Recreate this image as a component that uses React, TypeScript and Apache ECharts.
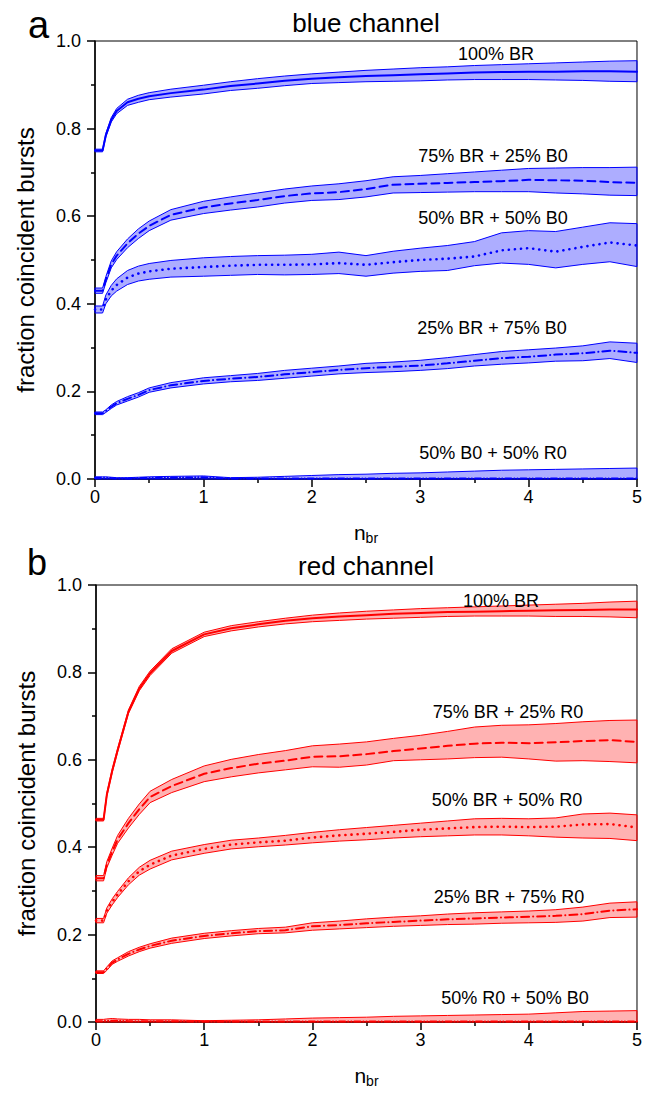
import React, { useEffect, useRef } from 'react';
import * as echarts from 'echarts';

// shared n_br sample positions
const nbr = [0, 0.07, 0.1, 0.15, 0.2, 0.3, 0.4, 0.5, 0.7, 1.0, 1.25, 1.5, 1.75, 2.0, 2.25, 2.5, 2.75, 3.0, 3.25, 3.5, 3.75, 4.0, 4.25, 4.5, 4.75, 5.0];
const zeros = nbr.map(() => 0);

// ---- blue channel ----
const blue100 = [0.75,0.75,0.785,0.82,0.84,0.86,0.868,0.874,0.881,0.889,0.897,0.903,0.909,0.914,0.917,0.92,0.922,0.924,0.926,0.928,0.929,0.93,0.93,0.931,0.931,0.93];
const blue100Hi = [0.753,0.753,0.789,0.825,0.846,0.867,0.876,0.882,0.89,0.899,0.907,0.914,0.92,0.925,0.929,0.933,0.936,0.939,0.941,0.944,0.946,0.948,0.95,0.952,0.954,0.955];
const blue100Lo = [0.747,0.747,0.781,0.815,0.834,0.853,0.86,0.866,0.872,0.879,0.887,0.892,0.898,0.903,0.905,0.907,0.908,0.909,0.911,0.912,0.912,0.912,0.911,0.91,0.908,0.907];

const blue75 = [0.43,0.43,0.455,0.49,0.51,0.538,0.56,0.578,0.603,0.62,0.629,0.637,0.646,0.652,0.655,0.662,0.672,0.674,0.676,0.678,0.68,0.683,0.682,0.681,0.678,0.676];
const blue75Hi = [0.436,0.436,0.462,0.498,0.519,0.548,0.571,0.589,0.615,0.634,0.644,0.653,0.662,0.669,0.674,0.681,0.69,0.693,0.697,0.701,0.705,0.709,0.71,0.711,0.711,0.712];
const blue75Lo = [0.424,0.424,0.448,0.482,0.501,0.528,0.549,0.567,0.591,0.606,0.614,0.621,0.63,0.636,0.638,0.644,0.653,0.654,0.655,0.656,0.656,0.656,0.653,0.651,0.648,0.647];

const blue50 = [0.387,0.387,0.41,0.43,0.443,0.46,0.469,0.474,0.48,0.484,0.487,0.489,0.489,0.49,0.493,0.489,0.495,0.5,0.503,0.508,0.522,0.527,0.519,0.53,0.54,0.533];
const blue50Hi = [0.395,0.395,0.42,0.442,0.457,0.476,0.486,0.492,0.499,0.505,0.508,0.51,0.511,0.513,0.518,0.51,0.52,0.527,0.533,0.542,0.562,0.567,0.565,0.575,0.585,0.583];
const blue50Lo = [0.379,0.379,0.4,0.418,0.429,0.444,0.452,0.456,0.461,0.463,0.465,0.467,0.466,0.467,0.469,0.463,0.47,0.474,0.476,0.487,0.493,0.49,0.482,0.49,0.496,0.485];

const blue25 = [0.15,0.15,0.155,0.165,0.173,0.183,0.192,0.203,0.214,0.224,0.229,0.233,0.239,0.244,0.249,0.253,0.256,0.259,0.264,0.27,0.276,0.279,0.284,0.287,0.293,0.288];
const blue25Hi = [0.153,0.153,0.158,0.169,0.177,0.188,0.197,0.208,0.22,0.231,0.236,0.241,0.248,0.253,0.258,0.264,0.267,0.271,0.277,0.284,0.291,0.295,0.299,0.304,0.313,0.31];
const blue25Lo = [0.147,0.147,0.152,0.161,0.169,0.178,0.187,0.198,0.208,0.217,0.222,0.225,0.23,0.235,0.24,0.243,0.245,0.248,0.252,0.258,0.262,0.265,0.269,0.27,0.275,0.266];

const blue0 = [0.002,0.002,0.002,0.002,0.001,0.001,0.002,0.002,0.003,0.004,0.001,0.001,0.001,0.001,0.001,0.001,0.001,0.001,0.001,0.001,0.001,0.001,0.001,0.001,0.001,0.001];
const blue0Hi = [0.005,0.005,0.005,0.004,0.003,0.003,0.004,0.005,0.006,0.007,0.003,0.004,0.006,0.008,0.01,0.011,0.013,0.014,0.016,0.018,0.02,0.021,0.022,0.023,0.024,0.025];

// ---- red channel ----
const red100 = [0.463,0.463,0.52,0.575,0.622,0.71,0.763,0.798,0.849,0.887,0.901,0.91,0.918,0.924,0.928,0.931,0.934,0.936,0.938,0.939,0.94,0.941,0.942,0.943,0.944,0.944];
const red100Hi = [0.466,0.466,0.524,0.579,0.626,0.714,0.768,0.803,0.854,0.892,0.907,0.916,0.924,0.931,0.936,0.94,0.943,0.946,0.948,0.95,0.952,0.954,0.956,0.958,0.961,0.963];
const red100Lo = [0.46,0.46,0.516,0.571,0.618,0.706,0.758,0.793,0.844,0.882,0.895,0.904,0.911,0.916,0.919,0.922,0.924,0.926,0.928,0.929,0.929,0.929,0.928,0.928,0.927,0.925];

const red75 = [0.329,0.329,0.36,0.39,0.418,0.455,0.487,0.515,0.54,0.568,0.581,0.591,0.598,0.607,0.608,0.613,0.62,0.626,0.632,0.637,0.639,0.638,0.64,0.643,0.645,0.641];
const red75Hi = [0.335,0.335,0.367,0.398,0.427,0.466,0.499,0.528,0.555,0.586,0.601,0.612,0.621,0.632,0.636,0.641,0.649,0.656,0.665,0.675,0.679,0.68,0.683,0.687,0.69,0.691];
const red75Lo = [0.323,0.323,0.353,0.382,0.409,0.444,0.475,0.502,0.525,0.55,0.561,0.57,0.577,0.584,0.583,0.588,0.598,0.6,0.602,0.605,0.606,0.602,0.597,0.598,0.596,0.593];

const red50 = [0.232,0.232,0.255,0.275,0.292,0.322,0.345,0.36,0.381,0.396,0.406,0.411,0.415,0.422,0.427,0.431,0.435,0.44,0.443,0.446,0.447,0.446,0.447,0.452,0.453,0.445];
const red50Hi = [0.237,0.237,0.261,0.282,0.299,0.33,0.354,0.37,0.391,0.406,0.416,0.421,0.427,0.434,0.44,0.445,0.45,0.455,0.46,0.465,0.466,0.465,0.467,0.476,0.478,0.474];
const red50Lo = [0.227,0.227,0.249,0.268,0.285,0.314,0.336,0.35,0.371,0.386,0.396,0.401,0.405,0.41,0.414,0.417,0.421,0.424,0.426,0.428,0.428,0.426,0.423,0.421,0.42,0.415];

const red25 = [0.114,0.114,0.122,0.136,0.143,0.156,0.166,0.174,0.186,0.197,0.203,0.208,0.21,0.219,0.222,0.226,0.229,0.232,0.235,0.237,0.239,0.241,0.243,0.247,0.255,0.258];
const red25Hi = [0.117,0.117,0.126,0.14,0.147,0.161,0.171,0.179,0.192,0.203,0.209,0.214,0.217,0.227,0.231,0.236,0.24,0.243,0.247,0.25,0.252,0.254,0.257,0.263,0.272,0.275];
const red25Lo = [0.111,0.111,0.118,0.132,0.139,0.151,0.161,0.169,0.18,0.191,0.197,0.202,0.204,0.21,0.213,0.216,0.219,0.221,0.223,0.224,0.226,0.227,0.228,0.231,0.239,0.24];

const red0 = [0.002,0.002,0.003,0.003,0.003,0.002,0.002,0.002,0.002,0.001,0.001,0.001,0.001,0.001,0.001,0.001,0.001,0.001,0.001,0.001,0.001,0.001,0.001,0.001,0.001,0.001];
const red0Hi = [0.006,0.006,0.007,0.008,0.007,0.006,0.006,0.005,0.005,0.003,0.004,0.005,0.007,0.009,0.01,0.011,0.013,0.014,0.015,0.016,0.017,0.018,0.021,0.024,0.025,0.026];

const blueLabels = ['100% BR', '75% BR + 25% B0', '50% BR + 50% B0', '25% BR + 75% B0', '50% B0 + 50% R0'];
const redLabels = ['100% BR', '75% BR + 25% R0', '50% BR + 50% R0', '25% BR + 75% R0', '50% R0 + 50% B0'];
const yTickLabels = ['0.0', '0.2', '0.4', '0.6', '0.8', '1.0'];

const FONT = 'Liberation Sans, Arial, sans-serif';
const BLUE = '#0000ff';
const BLUE_FILL = 'rgba(0,0,255,0.32)';
const RED = '#ff0000';
const RED_FILL = 'rgba(255,0,0,0.3)';

const DASHES: any[] = ['solid', [8, 5], [0.1, 6], [8, 4, 0.1, 4], [6, 3, 0.1, 3, 0.1, 3]];

type Curve = { name: string; mean: number[]; lo: number[]; hi: number[] };

const blueCurves: Curve[] = [
  { name: blueLabels[0], mean: blue100, lo: blue100Lo, hi: blue100Hi },
  { name: blueLabels[1], mean: blue75, lo: blue75Lo, hi: blue75Hi },
  { name: blueLabels[2], mean: blue50, lo: blue50Lo, hi: blue50Hi },
  { name: blueLabels[3], mean: blue25, lo: blue25Lo, hi: blue25Hi },
  { name: blueLabels[4], mean: blue0, lo: zeros, hi: blue0Hi },
];
const redCurves: Curve[] = [
  { name: redLabels[0], mean: red100, lo: red100Lo, hi: red100Hi },
  { name: redLabels[1], mean: red75, lo: red75Lo, hi: red75Hi },
  { name: redLabels[2], mean: red50, lo: red50Lo, hi: red50Hi },
  { name: redLabels[3], mean: red25, lo: red25Lo, hi: red25Hi },
  { name: redLabels[4], mean: red0, lo: zeros, hi: red0Hi },
];

function buildSeries(panel: number, curves: Curve[], color: string, fill: string) {
  const out: any[] = [];
  curves.forEach((c, k) => {
    const rows = nbr.map((x, i) => [x, c.lo[i], c.hi[i]]);
    out.push({
      type: 'custom', name: c.name + ' band', xAxisIndex: panel, yAxisIndex: panel, silent: true, z: 2,
      data: rows,
      encode: { x: 0, y: [1, 2] },
      renderItem: (params: any, api: any) => {
        if (params.dataIndex !== 0) return null;
        const upper = rows.map((r) => api.coord([r[0], r[2]]));
        const lower = rows.map((r) => api.coord([r[0], r[1]])).reverse();
        return {
          type: 'polygon',
          shape: { points: upper.concat(lower) },
          style: { fill, stroke: color, lineWidth: 1 },
        };
      },
    });
    out.push({
      type: 'line', name: c.name, xAxisIndex: panel, yAxisIndex: panel,
      data: nbr.map((x, i) => [x, c.mean[i]]), symbol: 'none', silent: true,
      lineStyle: { color, width: k === 2 ? 2.6 : 2, type: DASHES[k], cap: 'round' }, z: 3,
    });
  });
  return out;
}

const axisLineStyle = { color: '#000', width: 1.5 };

function makeX(gridIndex: number) {
  return {
    type: 'value', gridIndex, min: 0, max: 5, interval: 1,
    axisLine: { show: true, onZero: false, lineStyle: axisLineStyle },
    axisTick: { show: true, length: 8, lineStyle: axisLineStyle },
    minorTick: { show: true, splitNumber: 2, length: 4, lineStyle: axisLineStyle },
    splitLine: { show: false },
    axisLabel: { fontSize: 18, color: '#000', margin: 9, fontFamily: FONT },
    name: '{n|n}{s|br}', nameLocation: 'middle', nameGap: 40,
    nameTextStyle: {
      rich: {
        n: { fontSize: 21, color: '#000', fontFamily: FONT },
        s: { fontSize: 14, color: '#000', fontFamily: FONT, padding: [12, 0, 0, 0] },
      },
    },
  };
}

function makeY(gridIndex: number) {
  return {
    type: 'value', gridIndex, min: 0, max: 1, interval: 0.2,
    axisLine: { show: true, onZero: false, lineStyle: axisLineStyle },
    axisTick: { show: true, length: 8, lineStyle: axisLineStyle },
    minorTick: { show: true, splitNumber: 2, length: 4, lineStyle: axisLineStyle },
    splitLine: { show: false },
    axisLabel: {
      fontSize: 18, color: '#000', margin: 14, fontFamily: FONT,
      formatter: (v: number) => yTickLabels[Math.round(v * 5)],
    },
    name: 'fraction coincident bursts', nameLocation: 'middle', nameRotate: 90, nameGap: 58,
    nameTextStyle: { fontSize: 24, color: '#000', fontFamily: FONT },
  };
}

function txt(text: string, x: number, y: number, fontSize: number, align: string = 'center') {
  return {
    type: 'text', x, y, silent: true, z: 10,
    style: { text, fontSize, fontFamily: FONT, fill: '#000', align, verticalAlign: 'middle' },
  };
}

export default function App() {
  const ref = useRef<HTMLDivElement>(null);
  useEffect(() => {
    if (!ref.current) return;
    const chart = echarts.init(ref.current, undefined, { renderer: 'svg' });
    chart.setOption({
      animation: false,
      backgroundColor: '#fff',
      grid: [
        { left: 95, top: 41, width: 542, height: 438, show: true, borderColor: '#000', borderWidth: 1 },
        { left: 96, top: 585, width: 541, height: 437, show: true, borderColor: '#000', borderWidth: 1 },
      ],
      xAxis: [makeX(0), makeX(1)],
      yAxis: [makeY(0), makeY(1)],
      series: [...buildSeries(0, blueCurves, BLUE, BLUE_FILL), ...buildSeries(1, redCurves, RED, RED_FILL)],
      graphic: [
        txt('a', 28, 25, 38, 'left'),
        txt('blue channel', 366, 23, 26),
        txt('b', 27, 562, 36, 'left'),
        txt('red channel', 366, 566, 26),
        txt(blueLabels[0], 496, 54, 18),
        txt(blueLabels[1], 493, 156, 18),
        txt(blueLabels[2], 493, 218, 18),
        txt(blueLabels[3], 492, 328, 18),
        txt(blueLabels[4], 493, 453, 18),
        txt(redLabels[0], 501, 601, 18),
        txt(redLabels[1], 508, 712, 18),
        txt(redLabels[2], 507, 800, 18),
        txt(redLabels[3], 509, 897, 18),
        txt(redLabels[4], 515, 998, 18),
      ],
    });
    return () => chart.dispose();
  }, []);
  return <div ref={ref} style={{ position: 'fixed', left: 0, top: 0, width: 645, height: 1094 }} />;
}
